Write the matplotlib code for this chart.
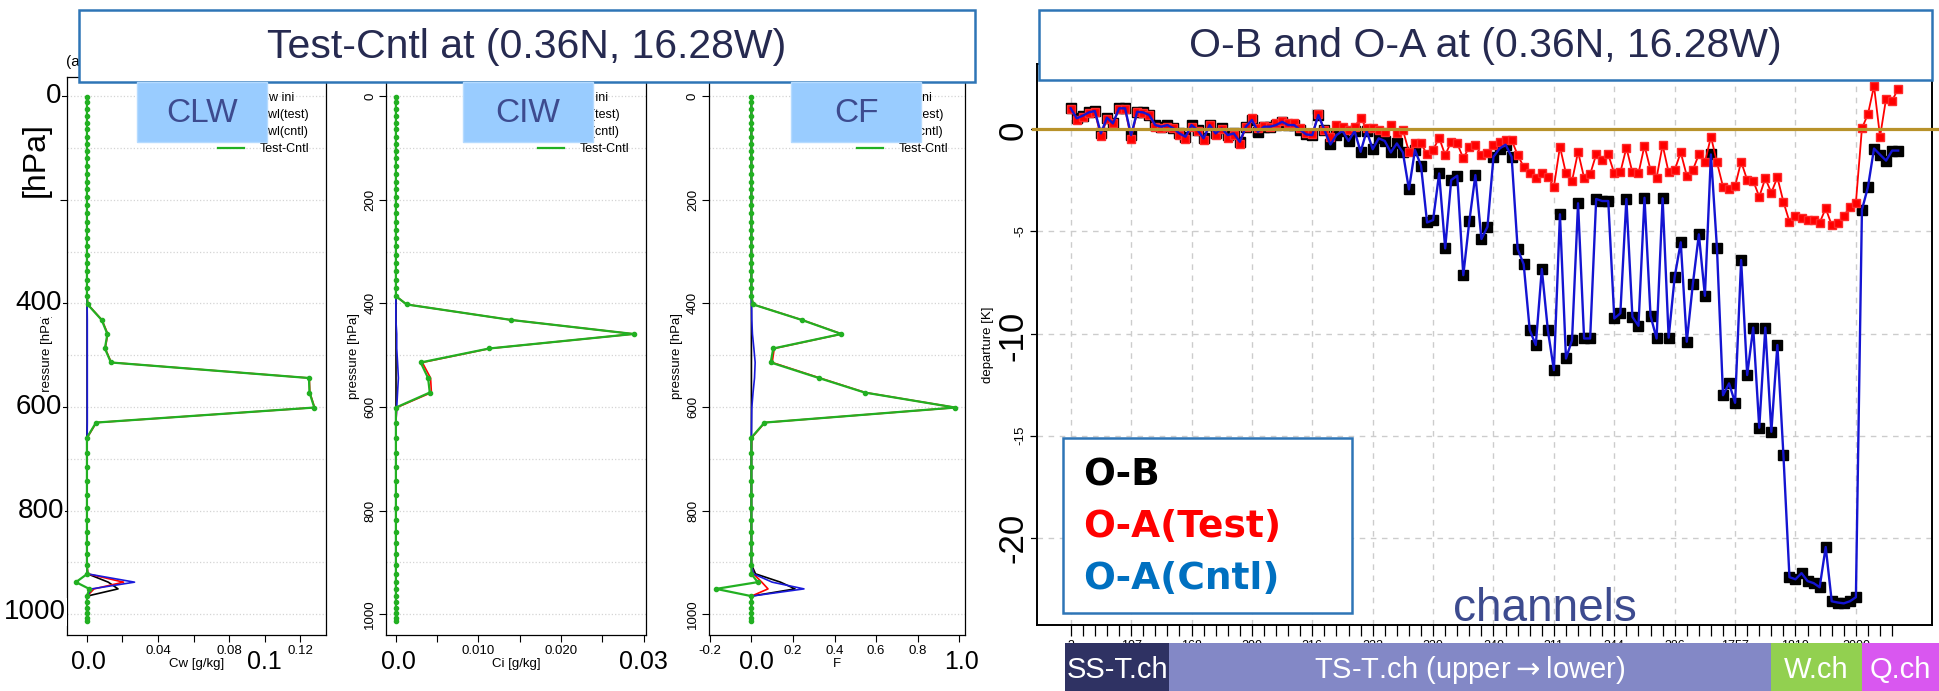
import matplotlib
matplotlib.use("Agg")
import matplotlib.pyplot as plt
import matplotlib.transforms as mtransforms
from matplotlib.patches import Rectangle

W, H = 1939, 691

# model pressure levels [hPa]
levels = [1, 12, 25, 38, 51, 64, 78, 92, 106, 120,
          135, 150, 165, 180, 195, 210, 226, 242, 258, 274,
          290, 306, 322, 338, 354, 370, 386,
          402, 432, 459, 487, 514, 544, 572, 601, 630, 659,
          688, 716, 743, 769, 794, 818, 841, 863, 884, 904,
          922, 938, 951, 965, 977, 988, 998, 1007, 1013]

# cloud liquid water [g/kg]
clw_ini = [0, 0, 0, 0, 0, 0, 0, 0, 0, 0, 0, 0, 0, 0,
           0, 0, 0, 0, 0, 0, 0, 0, 0, 0, 0, 0, 0,
           0.0001, 0.0001, 0.0001, 0.0001, 0.0001, 0.0001, 0.0001, 0.0001, 0.0001, 0,
           0, 0, 0, 0, 0, 0, 0, 0, 0, 0,
           0.0003, 0.012, 0.0175, 0, 0, 0, 0, 0, 0]
clw_test = [0, 0, 0, 0, 0, 0, 0, 0, 0, 0, 0, 0, 0, 0,
            0, 0, 0, 0, 0, 0, 0, 0, 0, 0, 0, 0, 0,
            0.0005, 0.0085, 0.0117, 0.0103, 0.0137, 0.1252, 0.1255, 0.1282, 0.0053, 0.0002,
            0, 0, 0, 0, 0, 0, 0, 0, 0, 0,
            0.0005, 0.0206, 0.004, 0, 0, 0, 0, 0, 0]
clw_cntl = [0, 0, 0, 0, 0, 0, 0, 0, 0, 0, 0, 0, 0, 0,
            0, 0, 0, 0, 0, 0, 0, 0, 0, 0, 0, 0, 0,
            0.0001, 0.0002, 0.0002, 0.0002, 0.0002, 0.0002, 0.0002, 0.0002, 0.0002, 0.0001,
            0, 0, 0, 0, 0, 0, 0, 0, 0, 0,
            0.0003, 0.0268, 0.0027, 0, 0, 0, 0, 0, 0]
clw_diff = [0, 0, 0, 0, 0, 0, 0, 0, 0, 0, 0, 0, 0, 0,
            0, 0, 0, 0, 0, 0, 0, 0, 0, 0, 0, 0, 0,
            0.0004, 0.0083, 0.0115, 0.0101, 0.0135, 0.125, 0.1253, 0.128, 0.0051, 0,
            0, 0, 0, 0, 0, 0, 0, 0, 0, 0,
            0.0002, -0.0062, 0.0013, 0, 0, 0, 0, 0, 0]

# cloud ice water [g/kg]
ciw_ini = [0, 0, 0, 0, 0, 0, 0, 0, 0, 0, 0, 0, 0, 0,
           0, 0, 0, 0, 0, 0, 0, 0, 0, 0, 0, 0, 0,
           0, 0, 0, 0, 0, 0, 0, 0, 0, 0,
           0, 0, 0, 0, 0, 0, 0, 0, 0, 0,
           0, 0, 0, 0, 0, 0, 0, 0, 0]
ciw_test = [0, 0, 0, 0, 0, 0, 0, 0, 0, 0, 0, 0, 0, 0,
            0, 0, 0, 0, 0, 0, 0, 0, 0, 0, 0, 0, 0,
            0.0013, 0.014, 0.0288, 0.0114, 0.0032, 0.0042, 0.0043, 0.0001, 0, 0,
            0, 0, 0, 0, 0, 0, 0, 0, 0, 0,
            0, 0, 0, 0, 0, 0, 0, 0, 0]
ciw_cntl = [0, 0, 0, 0, 0, 0, 0, 0, 0, 0, 0, 0, 0, 0,
            0, 0, 0, 0, 0, 0, 0, 0, 0, 0, 0, 0, 0,
            0, 0, 0.0001, 0.0001, 0.0002, 0.0003, 0.0002, 0.0001, 0, 0,
            0, 0, 0, 0, 0, 0, 0, 0, 0, 0,
            0, 0, 0, 0, 0, 0, 0, 0, 0]
ciw_diff = [0, 0, 0, 0, 0, 0, 0, 0, 0, 0, 0, 0, 0, 0,
            0, 0, 0, 0, 0, 0, 0, 0, 0, 0, 0, 0, 0,
            0.0013, 0.014, 0.0288, 0.0113, 0.003, 0.0039, 0.0041, 0, 0, 0,
            0, 0, 0, 0, 0, 0, 0, 0, 0, 0,
            0, 0, 0, 0, 0, 0, 0, 0, 0]

# cloud fraction
cf_ini = [0, 0, 0, 0, 0, 0, 0, 0, 0, 0, 0, 0, 0, 0,
          0, 0, 0, 0, 0, 0, 0, 0, 0, 0, 0, 0, 0,
          0, 0, 0, 0, 0, 0, 0, 0, 0, 0,
          0, 0, 0, 0, 0, 0, 0, 0, 0, 0,
          0.02, 0.14, 0.21, 0, 0, 0, 0, 0, 0]
cf_test = [0, 0, 0, 0, 0, 0, 0, 0, 0, 0, 0, 0, 0, 0,
           0, 0, 0, 0, 0, 0, 0, 0, 0, 0, 0, 0, 0,
           0.009, 0.245, 0.435, 0.11, 0.1, 0.33, 0.548, 0.983, 0.065, 0.002,
           0, 0, 0, 0, 0, 0, 0, 0, 0, 0,
           0.01, 0.05, 0.08, 0, 0, 0, 0, 0, 0]
cf_cntl = [0, 0, 0, 0, 0, 0, 0, 0, 0, 0, 0, 0, 0, 0,
           0, 0, 0, 0, 0, 0, 0, 0, 0, 0, 0, 0, 0,
           0.001, 0.002, 0.005, 0.012, 0.018, 0.015, 0.008, 0.002, 0.001, 0,
           0, 0, 0, 0, 0, 0, 0, 0, 0, 0,
           0.01, 0.1, 0.253, 0, 0, 0, 0, 0, 0]
cf_diff = [0, 0, 0, 0, 0, 0, 0, 0, 0, 0, 0, 0, 0, 0,
           0, 0, 0, 0, 0, 0, 0, 0, 0, 0, 0, 0, 0,
           0.008, 0.243, 0.433, 0.105, 0.093, 0.325, 0.545, 0.981, 0.063, 0,
           0, 0, 0, 0, 0, 0, 0, 0, 0, 0,
           0, 0.03, -0.17, 0, 0, 0, 0, 0, 0]

# departures [K] for each channel (in plotting order)
ob_dep = [1.03, 0.54, 0.67, 0.83, 0.9, -0.2, 0.57, 0.29, 1.03, 1.03,
          -0.28, 0.86, 0.83, 0.7, 0.21, 0.13, 0.21, 0.05, -0.2, -0.36,
          0.21, -0.03, -0.44, 0.21, -0.2, 0.05, -0.28, -0.2, -0.61, 0.13,
          0.46, -0.12, 0.13, 0.13, 0.21, 0.37, 0.21, 0.21, -0.03, -0.25,
          -0.28, 0.7, -0.03, -0.74, -0.28, -0.08, -0.57, -0.08, -1.1, -0.08,
          -0.97, -0.44, -0.57, -1.13, -0.69, -1.13, -2.94, -1.01, -1.78, -4.56,
          -4.44, -2.16, -5.83, -2.48, -2.27, -7.14, -4.49, -2.24, -5.37, -4.77,
          -1.34, -0.94, -0.75, -1.34, -5.86, -6.61, -9.83, -10.56, -6.84, -9.83,
          -11.79, -4.16, -11.22, -10.32, -3.62, -10.24, -10.24, -3.41, -3.51, -3.51,
          -9.26, -9.01, -3.41, -9.18, -9.62, -3.35, -9.13, -10.24, -3.38, -10.2,
          -7.22, -5.53, -10.4, -7.59, -5.14, -8.15, -1.23, -5.83, -13.02, -12.44,
          -13.39, -6.4, -12.03, -9.71, -14.61, -9.71, -14.81, -10.56, -15.95, -21.93,
          -22.03, -21.73, -22.12, -22.22, -22.42, -20.45, -23.11, -23.17, -23.21, -23.11,
          -22.91, -3.94, -2.82, -0.94, -1.24, -1.53, -1.04, -1.04]
oa_test = [1.0, 0.45, 0.6, 0.8, 0.85, -0.35, 0.5, 0.3, 1.0, 1.0,
           -0.45, 0.85, 0.8, 0.7, 0.1, 0.05, 0.1, 0.05, -0.3, -0.45,
           0.1, -0.1, -0.5, 0.2, -0.3, 0.0, -0.4, -0.3, -0.7, 0.1,
           0.55, 0.05, 0.15, 0.1, 0.3, 0.4, 0.3, 0.29, 0.05, -0.2,
           -0.25, 0.73, -0.03, -0.36, 0.21, 0.13, -0.03, 0.13, 0.54, 0.05,
           0.05, -0.03, -0.12, 0.21, -0.2, -0.03, -1.1, -0.69, -0.69, -1.23,
           -1.01, -0.41, -1.26, -0.61, -0.69, -1.42, -0.85, -0.77, -1.26, -1.18,
           -0.77, -0.61, -0.52, -0.52, -1.26, -1.83, -2.16, -2.4, -2.16, -2.32,
           -2.81, -0.85, -2.16, -2.53, -1.1, -2.37, -2.2, -1.23, -1.5, -1.23,
           -2.16, -2.11, -0.9, -2.11, -2.16, -0.8, -1.99, -2.37, -0.77, -2.11,
           -1.99, -1.13, -2.27, -1.99, -1.23, -1.62, -0.36, -1.62, -2.81, -2.9,
           -2.78, -1.58, -2.48, -2.52, -3.3, -2.4, -3.1, -2.35, -3.55, -4.52,
           -4.25, -4.36, -4.44, -4.44, -4.57, -3.87, -4.69, -4.6, -4.25, -3.79,
           -3.59, 0.05, 0.75, 2.12, -0.36, 1.51, 1.4, 2.0]
oa_cntl = list(ob_dep)  # the Cntl analysis lies on top of the O-B squares

ch_labels = ["3", "107", "168", "200", "216", "222", "230", "240",
             "311", "344", "386", "1757", "1819", "2000"]

plt.rcParams["font.family"] = ["Liberation Sans", "DejaVu Sans"]

fig = plt.figure(figsize=(W / 100, H / 100), dpi=100, facecolor="white")


def px_axes(l, t, r, b):
    return fig.add_axes([l / W, 1 - b / H, (r - l) / W, (b - t) / H])


def profile(ax, ini, test, cntl, diff, xlim, xticks, xlabels, xlabel, names,
            ylabels):
    ax.plot(ini, levels, color="black", lw=1.2, label=names[0])
    ax.plot(test, levels, color="red", lw=1.2, label=names[1])
    ax.plot(cntl, levels, color="#1a1adb", lw=1.2, label=names[2])
    ax.plot(diff, levels, color="#22b022", lw=1.6, marker="o", ms=3,
            label="Test-Cntl")
    for p in range(0, 1001, 100):
        ax.axhline(p, color="#d4d4d4", ls=":", lw=0.9, zorder=0)
    ax.set_ylim(1040, -37)
    ax.set_xlim(*xlim)
    ax.set_yticks([0, 200, 400, 600, 800, 1000])
    ax.set_yticklabels(ylabels, rotation=90, va="center")
    ax.set_xticks(xticks)
    ax.set_xticklabels(xlabels)
    ax.tick_params(length=5, width=0.8, labelsize=9.5, pad=2)
    ax.set_xlabel(xlabel, fontsize=9.5, labelpad=1)
    ax.set_ylabel("pressure [hPa]", fontsize=9.5, labelpad=3)
    for s in ax.spines.values():
        s.set_linewidth(0.9)
    leg = ax.legend(loc="upper right", bbox_to_anchor=(0.955, 0.982),
                    frameon=False, fontsize=9, handlelength=2.1,
                    handletextpad=1.25, labelspacing=0.4, borderaxespad=0)
    for h in leg.get_lines():
        h.set_marker("")


y_num = ["0", "200", "400", "600", "800", "1000"]

ax1 = px_axes(66.7, 77, 326, 635)
profile(ax1, clw_ini, clw_test, clw_cntl, clw_diff, (-0.0114, 0.1346),
        [0, 0.02, 0.04, 0.06, 0.08, 0.10, 0.12],
        ["", "", "0.04", "", "0.08", "", "0.12"], "Cw [g/kg]",
        ["Cw ini", "Cwl(test)", "Cwl(cntl)"], [""] * 6)

ax2 = px_axes(386, 77, 646, 635)
profile(ax2, ciw_ini, ciw_test, ciw_cntl, ciw_diff, (-0.0012, 0.0303),
        [0, 0.005, 0.01, 0.015, 0.02, 0.025, 0.03],
        ["", "", "0.010", "", "0.020", "", ""], "Ci [g/kg]",
        ["Ci ini", "Ci(test)", "Ci(cntl)"], y_num)

ax3 = px_axes(708.6, 77, 965, 635)
profile(ax3, cf_ini, cf_test, cf_cntl, cf_diff, (-0.206, 1.028),
        [-0.2, 0, 0.2, 0.4, 0.6, 0.8, 1.0],
        ["-0.2", "", "0.2", "0.4", "0.6", "0.8", ""], "F",
        ["CF ini", "CF(test)", "CF(cntl)"], y_num)

# departures panel
ax4 = px_axes(1037, 64, 1932, 625)
chans = list(range(len(ob_dep)))
ax4.plot(chans, ob_dep, ls="none", marker="s", ms=6.5, mfc="black",
         mec="black", zorder=3)
ax4.plot(chans, oa_test, color="red", lw=1.3, marker="s", ms=6.2,
         mfc="red", mec="#ff2a2a", zorder=4)
ax4.plot(chans, oa_cntl, color="#1414d2", lw=1.7, zorder=5)
ax4.set_xlim(-5.58, 142.6)
ax4.set_ylim(-24.27, 3.2)
ax4.set_xticks(range(0, 131, 10))
ax4.set_xticklabels(ch_labels)
ax4.set_xticks(range(0, 137, 2), minor=True)
ax4.tick_params(axis="x", which="both", length=8, width=0.9, labelsize=9, pad=3)
ax4.set_yticks([-20, -15, -10, -5, 0])
ax4.set_yticklabels(["", "-15", "", "-5", ""], rotation=90, va="center")
ax4.tick_params(axis="y", length=5, width=0.9, labelsize=9.5, pad=3)
ax4.set_ylabel("departure [K]", fontsize=9.5, labelpad=14)
ax4.grid(True, which="major", color="#cccccc", ls=(0, (4, 4)), lw=1)
for s in ax4.spines.values():
    s.set_linewidth(1.4)
blend = mtransforms.blended_transform_factory(fig.transFigure, ax4.transData)
ax4.plot([1033 / W, 1.0], [0, 0], transform=blend, color="#b8922a", lw=2.3,
         clip_on=False, zorder=6)

# overlay layer in pixel coordinates
ov = fig.add_axes([0, 0, 1, 1])
ov.set_xlim(0, W)
ov.set_ylim(H, 0)
ov.axis("off")
ov.set_zorder(20)
ov.patch.set_alpha(0)

ov.text(66, 62, "(a) CLW profile", fontsize=11, va="center", zorder=1)

blue_edge = "#2e75b6"
navy = "#262a50"
ov.add_patch(Rectangle((79, 10), 896, 72, fc="white", ec=blue_edge, lw=1.8, zorder=2))
ov.text(527, 47, "Test-Cntl at (0.36N, 16.28W)", fontsize=29.5, color=navy,
        ha="center", va="center", zorder=3)
ov.add_patch(Rectangle((1039, 10), 893, 70, fc="white", ec=blue_edge, lw=1.8, zorder=2))
ov.text(1485, 46, "O-B and O-A at (0.36N, 16.28W)", fontsize=29.5, color=navy,
        ha="center", va="center", zorder=3)

for name, x0 in [("CLW", 137), ("CIW", 462.6), ("CF", 791)]:
    ov.add_patch(Rectangle((x0, 81.5), 130, 60.5, fc="#99ccff", ec="#b5dbff",
                           lw=1, zorder=2))
    ov.text(x0 + 65, 113, name, fontsize=24, color="#3d4b8f",
            ha="center", va="center", zorder=3)

white = dict(facecolor="white", edgecolor="none", pad=1)
for s, x, y in [("0", 61, 96), ("400", 62, 303), ("600", 62, 407),
                ("800", 64, 511), ("1000", 66, 612)]:
    ov.text(x, y, s, fontsize=20, ha="right", va="center", bbox=white, zorder=3)
ov.text(36, 160, "[hPa]", fontsize=23, rotation=90, ha="center", va="center",
        bbox=white, zorder=3)
for s, x in [("0.0", 88), ("0.1", 264), ("0.0", 398), ("0.03", 643),
             ("0.0", 756), ("1.0", 962)]:
    ov.text(x, 662, s, fontsize=18, ha="center", va="center", bbox=white, zorder=3)
for s, y in [("0", 130), ("-10", 336), ("-20", 538)]:
    ov.text(1013, y, s, fontsize=25, rotation=90, ha="center", va="center",
            bbox=white, zorder=3)

ov.text(1453, 621, "channels", fontsize=33, color="#3d4b8f", ha="left",
        va="baseline", zorder=3)

# legend box of the departures panel
ov.add_patch(Rectangle((1063, 438), 289, 175, fc="white", ec=blue_edge, lw=1.8, zorder=2))
for s, y, c in [("O-B", 475, "black"), ("O-A(Test)", 527, "#ff0000"),
                ("O-A(Cntl)", 579, "#0070c0")]:
    ov.text(1083, y, s, fontsize=27, fontweight="bold", color=c,
            family="DejaVu Sans", ha="left", va="center", zorder=3)

# channel group bar
for s, x0, x1, c in [("SS-T.ch", 1065, 1169, "#2f3263"),
                     (r"TS-T.ch (upper$\rightarrow$lower)", 1169, 1771, "#8388c6"),
                     ("W.ch", 1771, 1862, "#92d050"),
                     ("Q.ch", 1862, 1939, "#d957f0")]:
    ov.add_patch(Rectangle((x0, 643), x1 - x0, 48, fc=c, ec="none", zorder=2))
    ov.text((x0 + x1) / 2, 670, s, fontsize=21, color="white", ha="center",
            va="center", zorder=3)

fig.savefig("out.png", dpi=100, facecolor="white")
